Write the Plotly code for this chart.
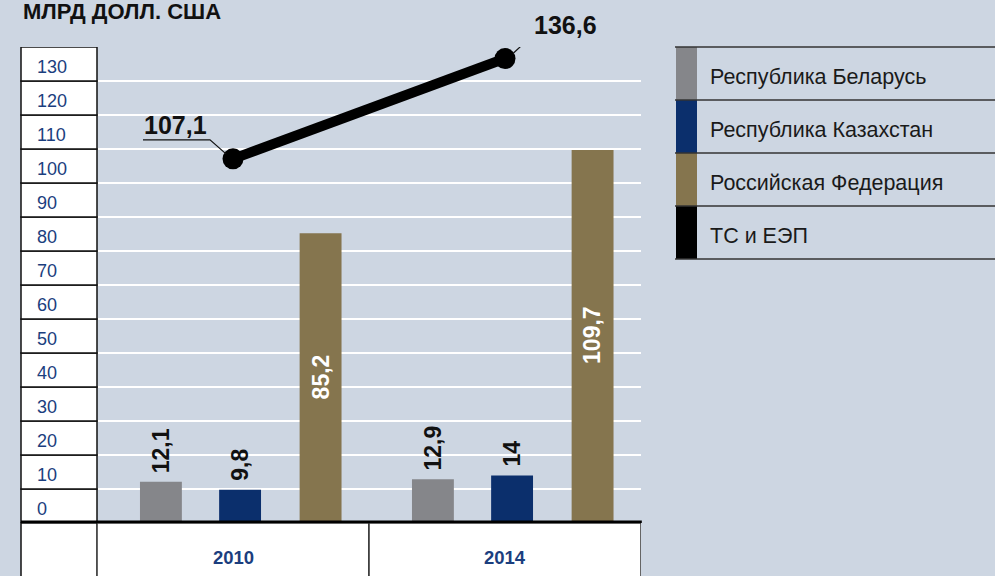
import plotly.graph_objects as go

# ---- data ----
years = ["2010", "2014"]
series_names = ["Республика Беларусь", "Республика Казахстан", "Российская Федерация"]
belarus = [12.1, 12.9]
kazakhstan = [9.8, 14]
russia = [85.2, 109.7]
total_name = "ТС и ЕЭП"
total = [107.1, 136.6]
y_tick_labels = [0, 10, 20, 30, 40, 50, 60, 70, 80, 90, 100, 110, 120, 130]
unit_title = "МЛРД ДОЛЛ. США"

# ---- style ----
BG = "#cdd6e2"
colors = ["#85868a", "#0b2f6c", "#85754e"]
TOTAL_COLOR = "#000000"
BLUE_TXT = "#1b3e7e"
FONT = "Liberation Sans, Arial, Helvetica, sans-serif"

W, H = 995, 576
L, R, T, B = 97, 354, 47, 53
PW = W - L - R
PH = H - T - B

def px_x(px):
    return (px - L) / PW

def px_y(px):
    return (H - B - px) / PH

def fmt(v):
    return ("%g" % v).replace(".", ",")

offsets = [-0.342, -0.051, 0.245]
bw = 0.154

fig = go.Figure()
series_vals = [belarus, kazakhstan, russia]
for name, vals, col, off in zip(series_names, series_vals, colors, offsets):
    fig.add_trace(go.Bar(
        x=years, y=vals, name=name, marker=dict(color=col, line=dict(width=0)),
        offset=off, width=bw, showlegend=False, hoverinfo="y",
    ))

fig.add_trace(go.Scatter(
    x=years, y=total, name=total_name, mode="lines+markers",
    line=dict(color=TOTAL_COLOR, width=10),
    marker=dict(size=21, color=TOTAL_COLOR), showlegend=False, cliponaxis=False,
))

shapes = []
annotations = []

# left label column (white cells)
for v in y_tick_labels:
    shapes.append(dict(type="rect", xref="paper", yref="y", x0=px_x(21), x1=0, y0=v, y1=v + 10,
                       fillcolor="white", line=dict(color="#111", width=1.5), layer="above"))
    annotations.append(dict(xref="paper", yref="y", x=px_x(35), y=v + 5, yshift=-3, text=str(v),
                            showarrow=False, xanchor="left", yanchor="middle",
                            font=dict(family=FONT, size=18, color=BLUE_TXT)))
# bottom cells
shapes.append(dict(type="rect", xref="paper", yref="paper", x0=px_x(21), x1=0, y0=px_y(H + 5), y1=0,
                   fillcolor="white", line=dict(color="#111", width=1.5), layer="above"))
for i, yr in enumerate(years):
    shapes.append(dict(type="rect", xref="x", yref="paper", x0=i - 0.5, x1=i + 0.5, y0=px_y(H + 5), y1=0,
                       fillcolor="white", line=dict(color="#333", width=1.5), layer="above"))
    annotations.append(dict(xref="x", yref="paper", x=i, y=px_y(557), text="<b>%s</b>" % yr,
                            showarrow=False, xanchor="center", yanchor="middle",
                            font=dict(family=FONT, size=18.5, color=BLUE_TXT)))
# thick baseline
shapes.append(dict(type="line", xref="paper", yref="y", x0=px_x(21), x1=1.0015, y0=0, y1=0,
                   line=dict(color="#000", width=5), layer="above"))

# bar value labels
for s, (vals, off) in enumerate(zip(series_vals, offsets)):
    for i, v in enumerate(vals):
        xc = i + off + bw / 2
        if s == 2:
            annotations.append(dict(xref="x", yref="y", x=xc, y=v * 0.42, text="<b>%s</b>" % fmt(v),
                                    showarrow=False, textangle=-90, xanchor="center", yanchor="bottom",
                                    font=dict(family=FONT, size=23, color="white")))
        else:
            annotations.append(dict(xref="x", yref="y", x=xc, y=v, yshift=7, text="<b>%s</b>" % fmt(v),
                                    showarrow=False, textangle=-90, xanchor="center", yanchor="bottom",
                                    font=dict(family=FONT, size=23, color="#111")))

# total labels with leader lines
leaders = [
    ("M -7,5 L -23,19 L -90,19", -58, 34),
    ("M 8,5 L 25,21 L 95,21", 60, 34),
]
for i, (v, (path, xs, ys)) in enumerate(zip(total, leaders)):
    shapes.append(dict(type="path", xref="x", yref="y", xsizemode="pixel", ysizemode="pixel",
                       xanchor=i, yanchor=v, path=path, line=dict(color="#111", width=1.2), layer="above"))
    annotations.append(dict(xref="x", yref="y", x=i, y=v, xshift=xs, yshift=ys, text="<b>%s</b>" % fmt(v),
                            showarrow=False, xanchor="center", yanchor="middle",
                            font=dict(family=FONT, size=25, color="#111")))

# custom legend
leg_names = series_names + [total_name]
leg_colors = colors + [TOTAL_COLOR]
row_edges = [47, 100, 153, 206, 259]
for k, (nm, col) in enumerate(zip(leg_names, leg_colors)):
    top, bot = row_edges[k], row_edges[k + 1]
    shapes.append(dict(type="rect", xref="paper", yref="paper", x0=px_x(676), x1=px_x(697),
                       y0=px_y(bot), y1=px_y(top), fillcolor=col, line=dict(width=0), layer="above"))
    annotations.append(dict(xref="paper", yref="paper", x=px_x(708), y=px_y((top + bot) / 2 + 3), text=nm,
                            showarrow=False, xanchor="left", yanchor="middle",
                            font=dict(family=FONT, size=21.5, color="#1a1a1a")))
for e in row_edges:
    shapes.append(dict(type="line", xref="paper", yref="paper", x0=px_x(675), x1=px_x(W + 5),
                       y0=px_y(e), y1=px_y(e), line=dict(color="#333", width=1.5), layer="above"))

# unit title (at the very top)
annotations.append(dict(xref="paper", yref="paper", x=px_x(21), y=px_y(0), yshift=3,
                        text="<b>%s</b>" % unit_title,
                        showarrow=False, xanchor="left", yanchor="top",
                        font=dict(family=FONT, size=22, color="#111")))

fig.update_layout(
    width=W, height=H, margin=dict(l=L, r=R, t=T, b=B),
    paper_bgcolor=BG, plot_bgcolor=BG, barmode="overlay",
    showlegend=False, shapes=shapes, annotations=annotations,
    xaxis=dict(type="category", range=[-0.5, 1.5], showticklabels=False, showgrid=False,
               zeroline=False, showline=False, ticks=""),
    yaxis=dict(range=[0, 140], dtick=10, showticklabels=False, showgrid=True, gridcolor="white",
               gridwidth=1.5, zeroline=False, showline=False, ticks=""),
)

fig.write_html("out.html", config={"displayModeBar": False},
               post_script="document.body.style.margin='0';document.body.style.overflow='hidden';")
